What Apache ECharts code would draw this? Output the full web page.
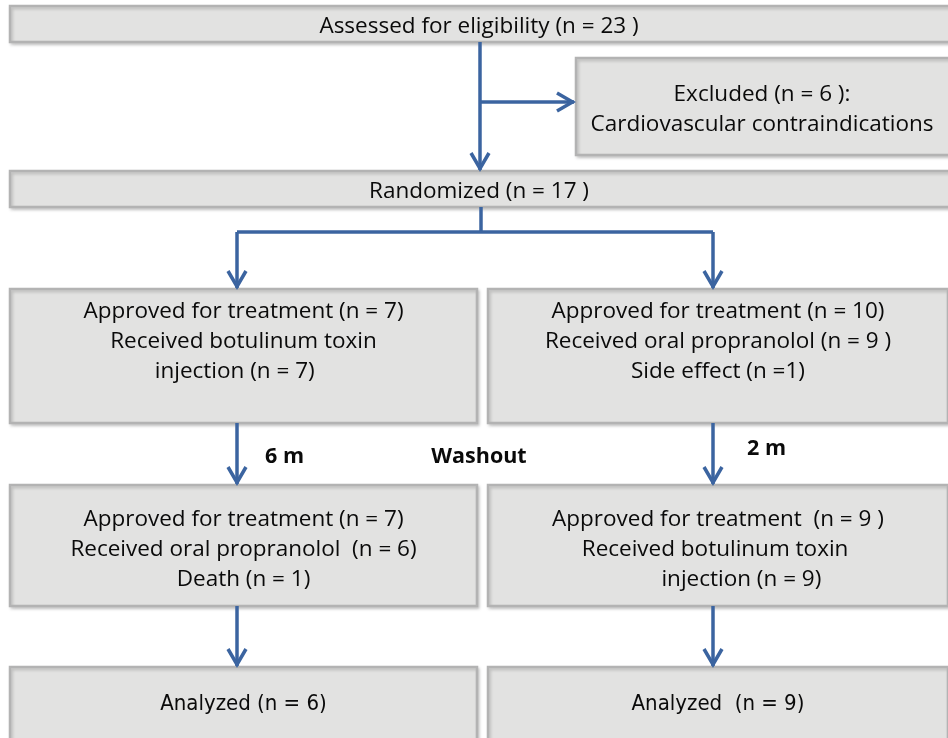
<!DOCTYPE html>
<html>
<head>
<meta charset="utf-8">
<script src="https://cdn.jsdelivr.net/npm/echarts@6/dist/echarts.min.js"></script>
<style>
  html, body { margin: 0; padding: 0; background: #fff; }
  #chart1 { width: 948px; height: 738px; }
</style>
</head>
<body>
<div id="chart1"></div>
<script>
// box texts, one array of lines per box
var boxTexts = [
    ['Assessed for eligibility (n = 23 )'],
    ['Excluded (n = 6 ):', 'Cardiovascular contraindications'],
    ['Randomized (n = 17 )'],
    ['Approved for treatment (n = 7)', 'Received botulinum toxin', 'injection (n = 7)   '],
    ['Approved for treatment (n = 10)', 'Received oral propranolol (n = 9 )', 'Side effect (n =1)'],
    ['Approved for treatment (n = 7)', 'Received oral propranolol  (n = 6)', 'Death (n = 1)'],
    ['Approved for treatment  (n = 9 )', 'Received botulinum toxin ', '        injection (n = 9)'],
    ['Analyzed (n = 6)'],
    ['Analyzed  (n = 9)']
];
// box frames: x0, y0, x1, y1, first text line y
var boxFrames = [
    [10, 6, 960, 42, 27],
    [576, 58, 960, 155, 95],
    [10, 171, 960, 207, 192],
    [10, 289, 477, 423, 312],
    [488, 289, 948, 423, 312],
    [10, 485, 477, 606, 520],
    [488, 485, 948, 606, 520],
    [10, 667, 477, 740, 704],
    [488, 667, 948, 740, 704]
];
// narrow font for the last row
var narrowBoxes = [7, 8];
// connectors: points, last flag = arrow head at end
var connectors = [
    [[[480, 42], [480, 170]], 1],
    [[[480, 102], [574, 102]], 1],
    [[[481, 207], [481, 232]], 0],
    [[[237, 232], [713, 232]], 0],
    [[[237, 232], [237, 288]], 1],
    [[[713, 232], [713, 288]], 1],
    [[[237, 423], [237, 484]], 1],
    [[[713, 423], [713, 484]], 1],
    [[[237, 606], [237, 666]], 1],
    [[[713, 606], [713, 666]], 1]
];
// interval labels
var stepLabels = ['6 m', 'Washout', '2 m'];
var stepPos = [[265, 457, 'left'], [479, 457, 'center'], [747, 449, 'left']];

var lineColor = '#3b64a0';
var font = '"Open Sans", sans-serif';

var boxData = boxFrames.map(function (f, i) { return [f[0], f[1], f[2], f[3], f[4], i]; });
var connData = connectors.map(function (c, i) { return [c[0][0][0], c[0][0][1], i]; });
var labelData = stepLabels.map(function (s, i) { return [stepPos[i][0], stepPos[i][1], i]; });

var chartDom = document.getElementById('chart1');
var myChart = echarts.init(chartDom);
var option = {
    animation: false,
    grid: { left: 0, right: 0, top: 0, bottom: 0 },
    xAxis: { type: 'value', min: 0, max: 948, show: false },
    yAxis: { type: 'value', min: 0, max: 738, inverse: true, show: false },
    series: [
        {
            type: 'custom',
            data: boxData,
            z: 2,
            renderItem: function (params, api) {
                var p0 = api.coord([api.value(0), api.value(1)]);
                var p1 = api.coord([api.value(2), api.value(3)]);
                var idx = api.value(5);
                var lines = boxTexts[idx];
                var narrow = narrowBoxes.indexOf(idx) >= 0;
                var cx = (p0[0] + p1[0]) / 2;
                if (p1[0] > 948) cx = (p0[0] + 948) / 2;
                var ty = api.coord([0, api.value(4)])[1];
                var children = [{
                    type: 'rect',
                    shape: { x: p0[0], y: p0[1], width: p1[0] - p0[0], height: p1[1] - p0[1] },
                    style: {
                        fill: '#e2e2e1', stroke: '#b3b3b3', lineWidth: 2.5,
                        shadowBlur: 3, shadowOffsetX: 1.5, shadowOffsetY: 2, shadowColor: 'rgba(0,0,0,0.18)'
                    }
                }];
                lines.forEach(function (t, k) {
                    children.push({
                        type: 'text',
                        style: {
                            text: t, x: cx, y: ty + k * 30,
                            align: 'center', verticalAlign: 'middle',
                            fill: '#0a0a0a',
                            font: narrow ? '22px "Liberation Sans Narrow", "DejaVu Sans Condensed", sans-serif'
                                         : '22.5px ' + font
                        }
                    });
                });
                return { type: 'group', children: children };
            }
        },
        {
            type: 'custom',
            data: connData,
            z: 3,
            renderItem: function (params, api) {
                var c = connectors[api.value(2)];
                var pts = c[0].map(function (p) { return api.coord(p); });
                var children = [{
                    type: 'polyline',
                    shape: { points: pts },
                    style: { stroke: lineColor, lineWidth: 3.5, fill: null, lineCap: 'butt' }
                }];
                if (c[1]) {
                    var a = pts[pts.length - 2], b = pts[pts.length - 1];
                    var dx = b[0] - a[0], dy = b[1] - a[1];
                    var len = Math.sqrt(dx * dx + dy * dy);
                    var ux = dx / len, uy = dy / len;
                    var back = 17, side = 9;
                    children.push({
                        type: 'polyline',
                        shape: { points: [
                            [b[0] - ux * back - uy * side, b[1] - uy * back + ux * side],
                            [b[0] - ux * 1.5, b[1] - uy * 1.5],
                            [b[0] - ux * back + uy * side, b[1] - uy * back - ux * side]
                        ] },
                        style: { stroke: lineColor, lineWidth: 3.5, fill: null, lineJoin: 'miter' }
                    });
                }
                return { type: 'group', children: children };
            }
        },
        {
            type: 'custom',
            data: labelData,
            z: 4,
            renderItem: function (params, api) {
                var i = api.value(2);
                var p = api.coord([api.value(0), api.value(1)]);
                return {
                    type: 'text',
                    style: {
                        text: stepLabels[i], x: p[0], y: p[1],
                        align: stepPos[i][2], verticalAlign: 'middle',
                        fill: '#0a0a0a', font: 'bold 21.5px ' + font
                    }
                };
            }
        }
    ]
};
option && myChart.setOption(option);
</script>
</body>
</html>
